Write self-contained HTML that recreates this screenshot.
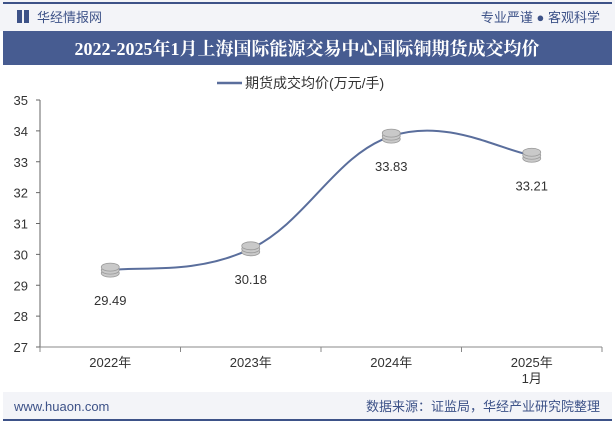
<!DOCTYPE html>
<html><head><meta charset="utf-8"><style>
body{margin:0;width:615px;height:427px;overflow:hidden;background:#fff;font-family:"Liberation Sans","Noto Sans CJK SC",sans-serif;}
</style></head><body>
<svg width="615" height="427" xmlns="http://www.w3.org/2000/svg">
<rect x="0" y="0" width="615" height="31" fill="#f3f4f8"/>
<rect x="3" y="2" width="609" height="2" fill="#3d5288"/>
<rect x="17" y="10" width="5" height="13" fill="#3d5288"/><rect x="24" y="10" width="5" height="13" fill="#3d5288"/>
<text x="37" y="22" font-size="13" fill="#3d5288">华经情报网</text>
<text x="600" y="22" font-size="13" fill="#3d5288" text-anchor="end">专业严谨 ● 客观科学</text>
<rect x="3" y="31" width="609" height="34" fill="#475c91"/>
<text x="307" y="55" font-size="18" font-weight="bold" fill="#fff" text-anchor="middle" font-family="Liberation Serif,'Noto Serif CJK SC',serif">2022-2025年1月上海国际能源交易中心国际铜期货成交均价</text>
<line x1="217" y1="83" x2="242" y2="83" stroke="#5a6e9c" stroke-width="2.5"/>
<text x="245" y="88" font-size="14" fill="#333">期货成交均价(万元/手)</text>
<g id="axes"></g>
<g id="series"></g>
<rect x="3" y="392" width="609" height="28" fill="#f3f4f8"/>
<rect x="3" y="419" width="609" height="2" fill="#3d5288"/>
<text x="14" y="411" font-size="13" fill="#3d5288">www.huaon.com</text>
<text x="600" y="411" font-size="13" fill="#3d5288" text-anchor="end">数据来源：证监局，华经产业研究院整理</text>
</svg>
<script>
const categories=["2022年","2023年","2024年","2025年|1月"];
const values=[29.49,30.18,33.83,33.21];
const yTicks=[27,28,29,30,31,32,33,34,35];
const NS="http://www.w3.org/2000/svg";
const x0=40,x1=602,yMin=27,yMax=35,yTop=100,yBot=347;
const band=(x1-x0)/categories.length;
const xs=i=>x0+band*(i+0.5);
const ys=v=>yBot-(v-yMin)/(yMax-yMin)*(yBot-yTop);
function mk(t,a,p){const e=document.createElementNS(NS,t);for(const k in a)e.setAttribute(k,a[k]);p.appendChild(e);return e;}
const ax=document.getElementById('axes');
let l=mk('line',{x1:x0,y1:yTop,x2:x0,y2:yBot,stroke:'#666'},ax);


l=mk('line',{x1:x0,y1:yBot,x2:x1,y2:yBot,stroke:'#888'},ax);


yTicks.forEach(v=>{
 mk('line',{x1:x0-4,y1:ys(v),x2:x0,y2:ys(v),stroke:'#666'},ax);
 const t=mk('text',{x:x0-12,y:ys(v)+5,'font-size':13,fill:'#333','text-anchor':'end'},ax);t.textContent=v;
 
 
});
for(let i=0;i<=categories.length;i++)mk('line',{x1:x0+band*i,y1:yBot,x2:x0+band*i,y2:yBot+5,stroke:'#888'},ax);
categories.forEach((c,i)=>{
 c.split('|').forEach((s,j)=>{const t=mk('text',{x:xs(i),y:367+j*16,'font-size':13,fill:'#333','text-anchor':'middle'},ax);t.textContent=s;
 
 });
});
const sg=document.getElementById('series');
const P=values.map((v,i)=>[xs(i),ys(v)]);
let d='M'+P[0][0]+','+P[0][1];
for(let i=0;i<P.length-1;i++){const p0=P[Math.max(0,i-1)],p1=P[i],p2=P[i+1],p3=P[Math.min(P.length-1,i+2)];const k=0.2;
d+=` C${p1[0]+(p2[0]-p0[0])*k},${p1[1]+(p2[1]-p0[1])*k} ${p2[0]-(p3[0]-p1[0])*k},${p2[1]-(p3[1]-p1[1])*k} ${p2[0]},${p2[1]}`;}
const path=mk('path',{d:d,fill:'none',stroke:'#5a6e9c','stroke-width':2},sg);


values.forEach((v,i)=>{
 for(let k=2;k>=0;k--)mk('ellipse',{cx:P[i][0],cy:P[i][1]+k*3-3,rx:9,ry:4,fill:'#c9c9c9',stroke:'#999','stroke-width':0.8},sg);
 const t=mk('text',{x:P[i][0],y:P[i][1]+35,'font-size':13,fill:'#333','text-anchor':'middle'},sg);t.textContent=v.toFixed(2);
 
 
});
</script>
</body></html>
